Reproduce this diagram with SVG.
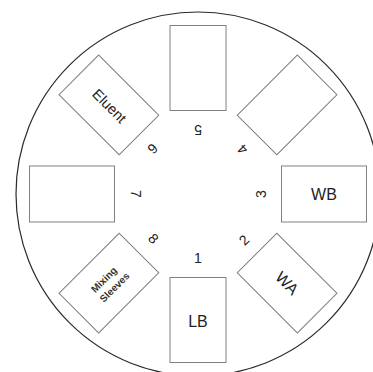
<svg xmlns="http://www.w3.org/2000/svg" width="373" height="372" viewBox="0 0 373 372">
<style>
.slot{fill:#fff;stroke:#808080;stroke-width:1}
.lbl{font-family:"Liberation Sans",Arial,sans-serif;font-size:16px;fill:#222;text-anchor:middle}
.elu{font-size:14.5px}
.num{font-family:"Liberation Sans",Arial,sans-serif;font-size:14px;fill:#222;text-anchor:middle}
.small{font-family:"Liberation Sans",Arial,sans-serif;font-size:10px;font-weight:bold;fill:#333;text-anchor:middle}
</style>
<rect width="373" height="372" fill="#fff"/>
<g id="tray">
<circle cx="198" cy="194" r="182" fill="none" stroke="#2a2a2a" stroke-width="1.2"/>
</g>
<g id="connectors"/>
<g id="slot1">
<rect class="slot" x="-28" y="-42.5" width="56" height="85" transform="translate(198,320)"/>
<text class="lbl" transform="translate(198,321)" dy="0.35em">LB</text>
<text class="num" transform="translate(198,194) rotate(0)" x="0" y="64" dy="0.35em">1</text>
</g>
<g id="slot2">
<rect class="slot" x="-28" y="-42.5" width="56" height="85" transform="translate(287.1,283.1) rotate(-45)"/>
<text class="lbl" transform="translate(287.1,283.1) rotate(45)" dy="0.35em">WA</text>
<text class="num" transform="translate(198,194) rotate(-45)" x="0" y="65" dy="0.35em">2</text>
</g>
<g id="slot3">
<rect class="slot" x="-28" y="-42.5" width="56" height="85" transform="translate(324,194) rotate(-90)"/>
<text class="lbl" transform="translate(324,194)" dy="0.35em">WB</text>
<text class="num" transform="translate(198,194) rotate(-90)" x="0" y="63" dy="0.35em">3</text>
</g>
<g id="slot4">
<rect class="slot" x="-28" y="-42.5" width="56" height="85" transform="translate(287.1,104.9) rotate(-135)"/>
<text class="num" transform="translate(198,194) rotate(-135)" x="0" y="63" dy="0.35em">4</text>
</g>
<g id="slot5">
<rect class="slot" x="-28" y="-42.5" width="56" height="85" transform="translate(198,68) rotate(180)"/>
<text class="num" transform="translate(198,194) rotate(180)" x="0" y="64" dy="0.35em">5</text>
</g>
<g id="slot6">
<rect class="slot" x="-28" y="-42.5" width="56" height="85" transform="translate(108.9,104.9) rotate(135)"/>
<text class="lbl elu" transform="translate(109.5,106) rotate(45)" dy="0.35em">Eluent</text>
<text class="num" transform="translate(198,194) rotate(135)" x="0" y="64" dy="0.35em">6</text>
</g>
<g id="slot7">
<rect class="slot" x="-28" y="-42.5" width="56" height="85" transform="translate(72,194) rotate(90)"/>
<text class="num" transform="translate(198,194) rotate(90)" x="0" y="62" dy="0.35em">7</text>
</g>
<g id="slot8">
<rect class="slot" x="-28" y="-42.5" width="56" height="85" transform="translate(108.9,283.1) rotate(45)"/>
<text class="small" transform="translate(108.9,283.1) rotate(-45)"><tspan x="-1" y="-6" dy="0.35em">Mixing</tspan><tspan x="1" y="7" dy="0.35em">Sleeves</tspan></text>
<text class="num" transform="translate(198,194) rotate(45)" x="0" y="63" dy="0.35em">8</text>
</g>
</svg>
